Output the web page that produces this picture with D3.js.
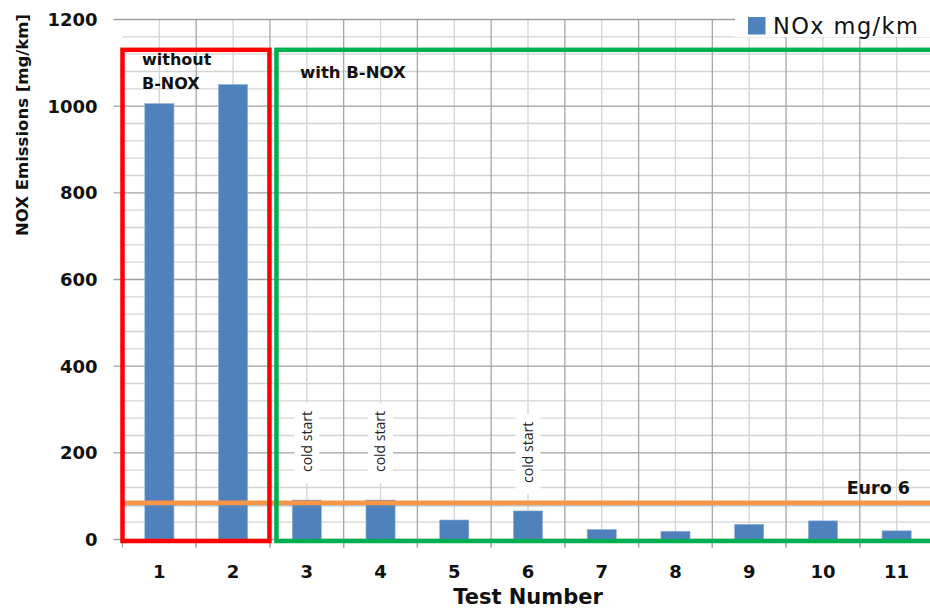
<!DOCTYPE html>
<html>
<head>
<meta charset="utf-8">
<script src="https://cdn.jsdelivr.net/npm/d3@7"></script>
<style>
  html,body{margin:0;padding:0;background:#fff;}
  svg{display:block;}
</style>
</head>
<body>
<div id="chart"></div>
<script>
// NOx emissions per test, with / without B-NOX
const tests = ['1','2','3','4','5','6','7','8','9','10','11'];
const nox = [1006, 1050, 91, 91, 45, 66, 23, 19, 35, 43, 20];
const coldStart = ['3','4','6'];
const yTicks = [0, 200, 400, 600, 800, 1000, 1200];
const euro6 = 85;
const seriesName = 'NOx mg/km';

(function() {
  const W = 930, H = 609;
  const m = {top:19.5, left:122.5, bottom:69.5};
  const plotRight = 933.5;
  const FONT = '"DejaVu Sans",Verdana,sans-serif';

  const svg = d3.select('#chart').append('svg').attr('width',W).attr('height',H);

  const xSc = d3.scaleBand().domain(tests).range([m.left, plotRight]).padding(0);
  const ySc = d3.scaleLinear().domain([0,1200]).range([H-m.bottom, m.top]);
  const bw = xSc.bandwidth();
  const barW = bw*0.395;

  // minor horizontal grid (every 40)
  const minor = d3.range(40,1200,40).filter(v => v%200!==0);
  svg.append('g').selectAll('line').data(minor).join('line')
    .attr('x1',m.left).attr('x2',W).attr('y1',d=>ySc(d)).attr('y2',d=>ySc(d))
    .style('stroke','#d4d4d4').style('stroke-width',1.3);

  // vertical grid: category centres (light) and boundaries (darker)
  svg.append('g').selectAll('line').data(tests).join('line')
    .attr('x1',d=>xSc(d)+bw/2).attr('x2',d=>xSc(d)+bw/2)
    .attr('y1',ySc(1200)).attr('y2',ySc(0))
    .style('stroke','#d4d4d4').style('stroke-width',1.3);
  svg.append('g').selectAll('line').data(tests.slice(1)).join('line')
    .attr('x1',d=>xSc(d)).attr('x2',d=>xSc(d))
    .attr('y1',ySc(1200)).attr('y2',ySc(0)+8)
    .style('stroke','#a6a6a6').style('stroke-width',1.3);

  // major grid + y ticks
  svg.append('g').selectAll('line').data(yTicks).join('line')
    .attr('x1',m.left-9).attr('x2',W).attr('y1',d=>ySc(d)).attr('y2',d=>ySc(d))
    .style('stroke','#a0a0a0').style('stroke-width',1.3);

  svg.append('g').selectAll('text').data(yTicks).join('text')
    .attr('x',m.left-25).attr('y',d=>ySc(d)).attr('dy','0.36em')
    .attr('text-anchor','end')
    .style('font-family',FONT).style('font-weight','bold').style('font-size','18px').style('fill','#111')
    .text(d=>d);

  // legend (white patch hides grid)
  svg.append('rect').attr('x',735).attr('y',0).attr('width',W-735).attr('height',37).attr('fill','#fff');
  svg.append('rect').attr('x',748).attr('y',17).attr('width',17.5).attr('height',17.5).attr('fill','#4F81BD');
  svg.append('text').attr('x',773).attr('y',34)
    .style('font-family',FONT).style('font-size','22.5px').style('letter-spacing','1.4px').style('fill','#111')
    .text(seriesName);

  // bars
  svg.append('g').selectAll('rect').data(tests).join('rect')
    .attr('x',d=>xSc(d)+(bw-barW)/2).attr('width',barW)
    .attr('y',(d,i)=>ySc(nox[i])).attr('height',(d,i)=>ySc(0)-ySc(nox[i]))
    .attr('fill','#4F81BD').attr('stroke','#8fb0d8').attr('stroke-width',0.6);

  // cold start labels
  const cs = svg.append('g').selectAll('g').data(coldStart).join('g')
    .attr('transform',d=>`translate(${xSc(d)+bw/2},${ySc(nox[tests.indexOf(d)])-17})`);
  cs.append('rect').attr('x',-12.5).attr('y',-80).attr('width',25).attr('height',80).attr('fill','#fff');
  cs.append('text').attr('transform','rotate(-90)').attr('x',11).attr('y',0).attr('dy','0.35em')
    .style('font-family','"Open Sans",sans-serif').style('font-size','14px').style('fill','#222')
    .text('cold start');

  // x tick marks
  svg.append('g').selectAll('line').data(tests).join('line')
    .attr('x1',d=>xSc(d)).attr('x2',d=>xSc(d)).attr('y1',ySc(0)).attr('y2',ySc(0)+8)
    .style('stroke','#a6a6a6').style('stroke-width',1.3);

  // x labels
  svg.append('g').selectAll('text').data(tests).join('text')
    .attr('x',d=>xSc(d)+bw/2).attr('y',ySc(0)+38)
    .attr('text-anchor','middle')
    .style('font-family',FONT).style('font-weight','bold').style('font-size','18px').style('fill','#111')
    .text(d=>d);

  // Euro 6 limit line
  svg.append('line').attr('x1',m.left+2).attr('x2',W).attr('y1',ySc(euro6)+2.5).attr('y2',ySc(euro6)+2.5)
    .style('stroke','#999').style('stroke-width',3).style('opacity',0.45);
  svg.append('line').attr('x1',m.left+2).attr('x2',W).attr('y1',ySc(euro6)).attr('y2',ySc(euro6))
    .style('stroke','#F79646').style('stroke-width',4.5);
  svg.append('text').attr('x',910).attr('y',ySc(euro6)-9).attr('text-anchor','end')
    .style('font-family',FONT).style('font-weight','bold').style('font-size','17.5px').style('fill','#111')
    .text('Euro 6');

  // boxes
  svg.append('rect')
    .attr('x',xSc('1')).attr('y',ySc(1130))
    .attr('width',xSc('2')+bw-xSc('1')-0.5).attr('height',ySc(0)+1.5-ySc(1130))
    .attr('fill','none').style('stroke','#FF0000').style('stroke-width',4.5);
  svg.append('rect')
    .attr('x',xSc('3')+6.5).attr('y',ySc(1130))
    .attr('width',plotRight+20-xSc('3')).attr('height',ySc(0)+1.5-ySc(1130))
    .attr('fill','none').style('stroke','#00B050').style('stroke-width',4.5);

  svg.append('text').attr('x',142).attr('y',65)
    .style('font-family',FONT).style('font-weight','bold').style('font-size','16px').style('fill','#111')
    .selectAll('tspan').data(['without','B-NOX']).join('tspan')
    .attr('x',142).attr('dy',(d,i)=>i?24:0).text(d=>d);
  svg.append('text').attr('x',300).attr('y',78)
    .style('font-family',FONT).style('font-weight','bold').style('font-size','16.5px').style('fill','#111')
    .text('with B-NOX');

  // axis titles
  svg.append('text').attr('transform','rotate(-90)').attr('x',-125).attr('y',28)
    .attr('text-anchor','middle')
    .style('font-family',FONT).style('font-weight','bold').style('font-size','16.5px').style('fill','#111')
    .text('NOX Emissions [mg/km]');
  svg.append('text').attr('x',528).attr('y',604).attr('text-anchor','middle')
    .style('font-family',FONT).style('font-weight','bold').style('font-size','21px').style('fill','#111')
    .text('Test Number');
})();
</script>
</body>
</html>
